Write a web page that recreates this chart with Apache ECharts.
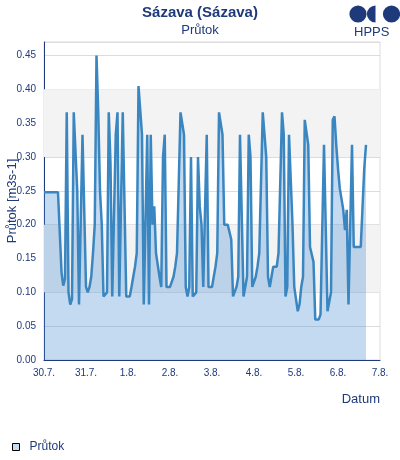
<!DOCTYPE html>
<html>
<head>
<meta charset="utf-8">
<script src="https://cdn.jsdelivr.net/npm/echarts@6/dist/echarts.min.js"></script>
<style>
  html, body { margin: 0; padding: 0; background: #fff; }
  #chart { width: 400px; height: 460px; }
</style>
</head>
<body>
<div id="chart"></div>
<script>
// osa x: hodiny od 30.7. 00:00, popisky po dnech
var dayLabels = ["30.7.", "31.7.", "1.8.", "2.8.", "3.8.", "4.8.", "5.8.", "6.8.", "7.8."];

// hodinové průtoky [m3s-1]
var flow30 = [0.248, 0.248, 0.248, 0.248, 0.248, 0.248, 0.248, 0.248, 0.248, 0.248, 0.13, 0.11,
              0.12, 0.366, 0.10, 0.082, 0.09, 0.366, 0.366, 0.25, 0.082, 0.082, 0.333, 0.333];
var flow31 = [0.108, 0.10, 0.108, 0.123, 0.158, 0.20, 0.45, 0.366, 0.25, 0.20, 0.094, 0.094,
              0.10, 0.366, 0.29, 0.094, 0.094, 0.333, 0.366, 0.094, 0.094, 0.366, 0.366, 0.094];
var flow01 = [0.094, 0.094, 0.108, 0.123, 0.138, 0.158, 0.405, 0.405, 0.333, 0.082, 0.082, 0.333,
              0.082, 0.333, 0.20, 0.227, 0.158, 0.158, 0.123, 0.108, 0.30, 0.333, 0.108, 0.108];
var flow02 = [0.108, 0.108, 0.123, 0.138, 0.158, 0.158, 0.366, 0.366, 0.333, 0.108, 0.094, 0.108,
              0.30, 0.094, 0.094, 0.10, 0.30, 0.227, 0.20, 0.108, 0.108, 0.333, 0.108, 0.108];
var flow03 = [0.108, 0.123, 0.138, 0.158, 0.366, 0.366, 0.333, 0.20, 0.20, 0.20, 0.20, 0.178,
              0.094, 0.094, 0.108, 0.123, 0.333, 0.333, 0.094, 0.108, 0.123, 0.333, 0.30, 0.108];
var flow04 = [0.108, 0.123, 0.138, 0.158, 0.158, 0.366, 0.366, 0.30, 0.123, 0.108, 0.123, 0.138,
              0.138, 0.138, 0.158, 0.158, 0.366, 0.333, 0.094, 0.108, 0.333, 0.333, 0.20, 0.108];
var flow05 = [0.108, 0.072, 0.082, 0.108, 0.123, 0.355, 0.355, 0.318, 0.167, 0.167, 0.145, 0.06,
              0.06, 0.06, 0.067, 0.067, 0.318, 0.318, 0.072, 0.072, 0.10, 0.355, 0.36, 0.318];
var flow06 = [0.283, 0.254, 0.254, 0.222, 0.192, 0.222, 0.082, 0.082, 0.318, 0.167, 0.167, 0.167,
              0.167, 0.167, 0.167, 0.283, 0.318];

var flow = [].concat(flow30, flow31, flow01, flow02, flow03, flow04, flow05, flow06);
var seriesData = [];
for (var i = 0; i < flow.length; i++) {
  seriesData.push([i, flow[i]]);
}

var textColor = "#1f3a7a";

var myChart = echarts.init(document.getElementById("chart"));
var option = {
  animation: false,
  title: [
    {
      text: "Sázava (Sázava)",
      left: "center",
      top: 0,
      textStyle: { color: textColor, fontSize: 15, fontWeight: "bold", fontFamily: "Liberation Sans" }
    },
    {
      text: "Průtok",
      left: "center",
      top: 19,
      textStyle: { color: textColor, fontSize: 13, fontWeight: "normal", fontFamily: "Liberation Sans" }
    }
  ],
  graphic: [
    { type: "circle", shape: { cx: 358, cy: 14, r: 8.6 }, style: { fill: textColor } },
    { type: "sector", shape: { cx: 375.5, cy: 14, r0: 0, r: 8.6, startAngle: Math.PI / 2, endAngle: Math.PI * 1.5 }, style: { fill: textColor } },
    { type: "circle", shape: { cx: 391.5, cy: 14, r: 8.6 }, style: { fill: textColor } },
    { type: "text", left: 354, top: 26, style: { text: "HPPS", fill: textColor, fontSize: 13, fontFamily: "Liberation Sans" } }
  ],
  legend: {
    left: 7,
    top: 436,
    icon: "rect",
    itemWidth: 7,
    itemHeight: 7,
    itemStyle: { borderColor: "#000", borderWidth: 1 },
    textStyle: { color: textColor, fontSize: 12, fontFamily: "Liberation Sans", padding: [0, 0, 0, 5] },
    data: ["Průtok"]
  },
  grid: {
    left: 44,
    right: 20,
    top: 42,
    bottom: 100,
    outerBoundsMode: "none",
    show: true,
    borderColor: "#dcdcdc",
    borderWidth: 1
  },
  xAxis: {
    type: "value",
    min: 0,
    max: 192,
    interval: 24,
    name: "Datum",
    nameLocation: "end",
    nameGap: 0,
    nameMoveOverlap: false,
    nameTextStyle: { color: textColor, fontSize: 13, fontFamily: "Liberation Sans", align: "right", verticalAlign: "top", padding: [33, 0, 0, 0] },
    axisLine: { lineStyle: { color: textColor, width: 1 } },
    axisTick: { show: false },
    splitLine: { show: false },
    axisLabel: {
      color: textColor,
      fontSize: 10,
      fontFamily: "Liberation Sans",
      margin: 8,
      formatter: function (v) {
        return dayLabels[Math.round(v / 24)];
      }
    }
  },
  yAxis: {
    type: "value",
    min: 0,
    max: 0.47,
    interval: 0.05,
    name: "Průtok [m3s-1]",
    nameLocation: "middle",
    nameGap: 25,
    nameMoveOverlap: false,
    nameTextStyle: { color: textColor, fontSize: 13, fontFamily: "Liberation Sans" },
    axisLine: { show: true, lineStyle: { color: textColor, width: 1 } },
    axisTick: { show: false },
    splitLine: { lineStyle: { color: "#dcdcdc", width: 1 } },
    axisLabel: {
      color: textColor,
      fontSize: 10,
      fontFamily: "Liberation Sans",
      margin: 8,
      showMaxLabel: false,
      formatter: function (v) {
        return v.toFixed(2);
      }
    }
  },
  series: [
    {
      // šedé pruhy pozadí
      name: "pasy",
      type: "line",
      data: [],
      z: 0,
      silent: true,
      markArea: {
        silent: true,
        itemStyle: { color: "#f3f3f3" },
        data: [
          [{ coord: [0, 0.1] }, { coord: [192, 0.2] }],
          [{ coord: [0, 0.3] }, { coord: [192, 0.4] }]
        ]
      }
    },
    {
      name: "Průtok",
      type: "line",
      z: 3,
      data: seriesData,
      showSymbol: false,
      symbol: "none",
      color: "#c6dcf0",
      lineStyle: { color: "#3a86c1", width: 2.5 },
      areaStyle: { color: "rgba(70,140,210,0.32)", opacity: 1 }
    }
  ]
};
myChart.setOption(option);
</script>
</body>
</html>
